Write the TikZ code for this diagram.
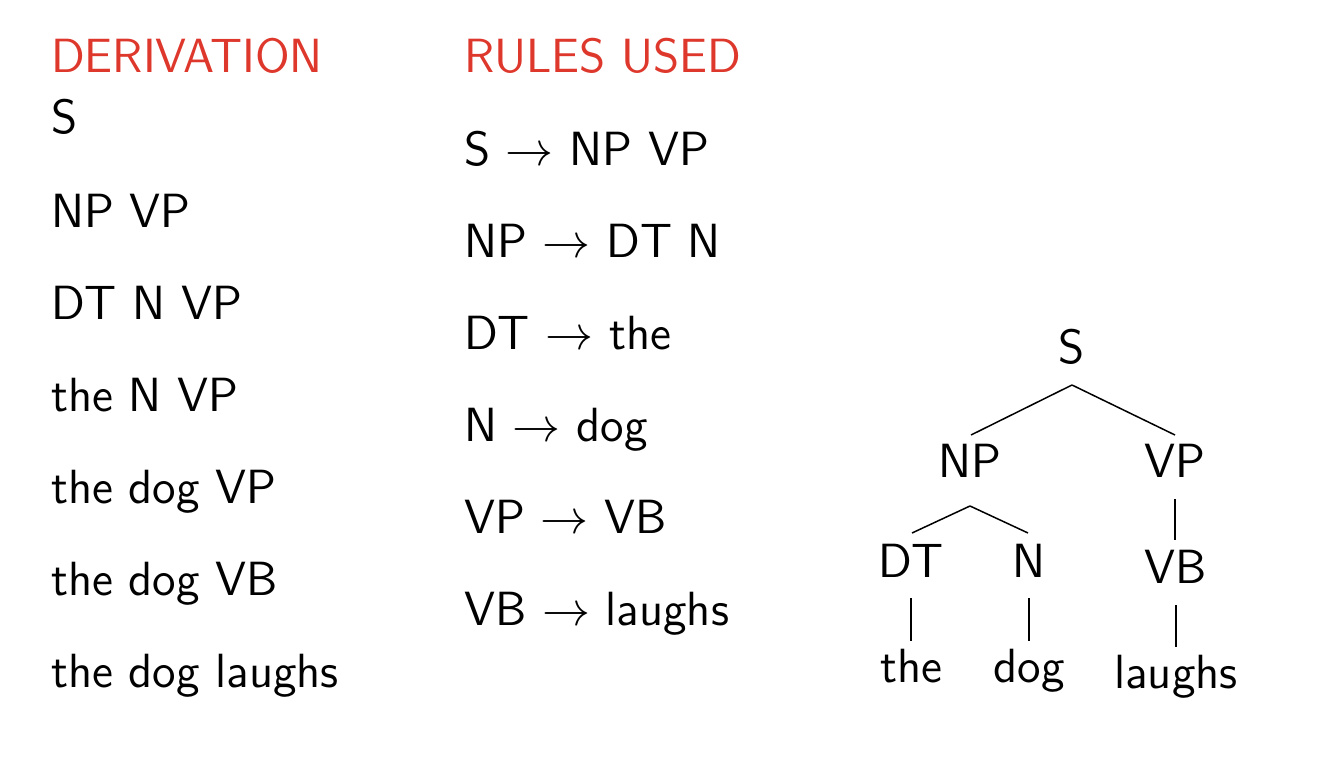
\documentclass[tikz,border=0pt]{standalone}
\usepackage{graphicx}
\usepackage{fontspec}
\newfontfamily\lmsx{lmsans12-regular.otf}
\usepackage{xcolor}
\definecolor{hdred}{RGB}{222,56,44}
\newcommand{\rarr}{\scalebox{4.8}{\fontsize{10}{12}\selectfont$\rightarrow$}}
\begin{document}
\begin{tikzpicture}[x=1pt,y=-1pt,
  txt/.style={anchor=base west,inner sep=0pt,font=\lmsx\fontsize{48}{50}\selectfont},
  hdr/.style={txt,text=hdred},
  tn/.style={anchor=base,inner sep=0pt,font=\lmsx\fontsize{48}{50}\selectfont},
  edge/.style={line width=1.5pt,black}]
\useasboundingbox (0,0) rectangle (1326,776);
% Left column
\node[hdr] (h1) at (51,73) {DERIVATION};
\node[txt] (d1) at (51,133) {S};
\node[txt] (d2) at (51,227) {NP VP};
\node[txt] (d3) at (51,319) {DT N VP};
\node[txt] (d4) at (51,411) {the N VP};
\node[txt] (d5) at (51,503) {the dog VP};
\node[txt] (d6) at (51,595) {the dog VB};
\node[txt] (d7) at (51,687) {the dog laughs};
% Rules column
\node[hdr] (h2) at (464,73) {RULES USED};
\node[txt] (r1) at (464,165) {S \rarr{} NP VP};
\node[txt] (r2) at (464,257) {NP \rarr{} DT N};
\node[txt] (r3) at (464,349) {DT \rarr{} the};
\node[txt] (r4) at (464,441) {N \rarr{} dog};
\node[txt] (r5) at (464,533) {VP \rarr{} VB};
\node[txt] (r6) at (464,625) {VB \rarr{} laughs};
% Tree
\node[tn] (tS) at (1072,363) {S};
\node[tn] (tNP) at (970,477) {NP};
\node[tn] (tVP) at (1175,477) {VP};
\node[tn] (tDT) at (911,577) {DT};
\node[tn] (tN) at (1029,577) {N};
\node[tn] (tVB) at (1176,583) {VB};
\node[tn] (tthe) at (911,682) {the};
\node[tn] (tdog) at (1029,682) {dog};
\node[tn] (tlaughs) at (1176,688) {laughs};
\coordinate (aS) at (1072,385);
\coordinate (aNP) at (970,506);
\draw[edge] (aS) -- (971,435);
\draw[edge] (aS) -- (1175,435);
\draw[edge] (aNP) -- (912,533);
\draw[edge] (aNP) -- (1028,533);
\draw[edge] (tVP.south |- 0,499) -- (tVP.south |- 0,540);
\draw[edge] (tDT.south |- 0,598) -- (tDT.south |- 0,641);
\draw[edge] (tN.south |- 0,598) -- (tN.south |- 0,641);
\draw[edge] (tVB.south |- 0,605) -- (tVB.south |- 0,647);
\end{tikzpicture}
\end{document}
